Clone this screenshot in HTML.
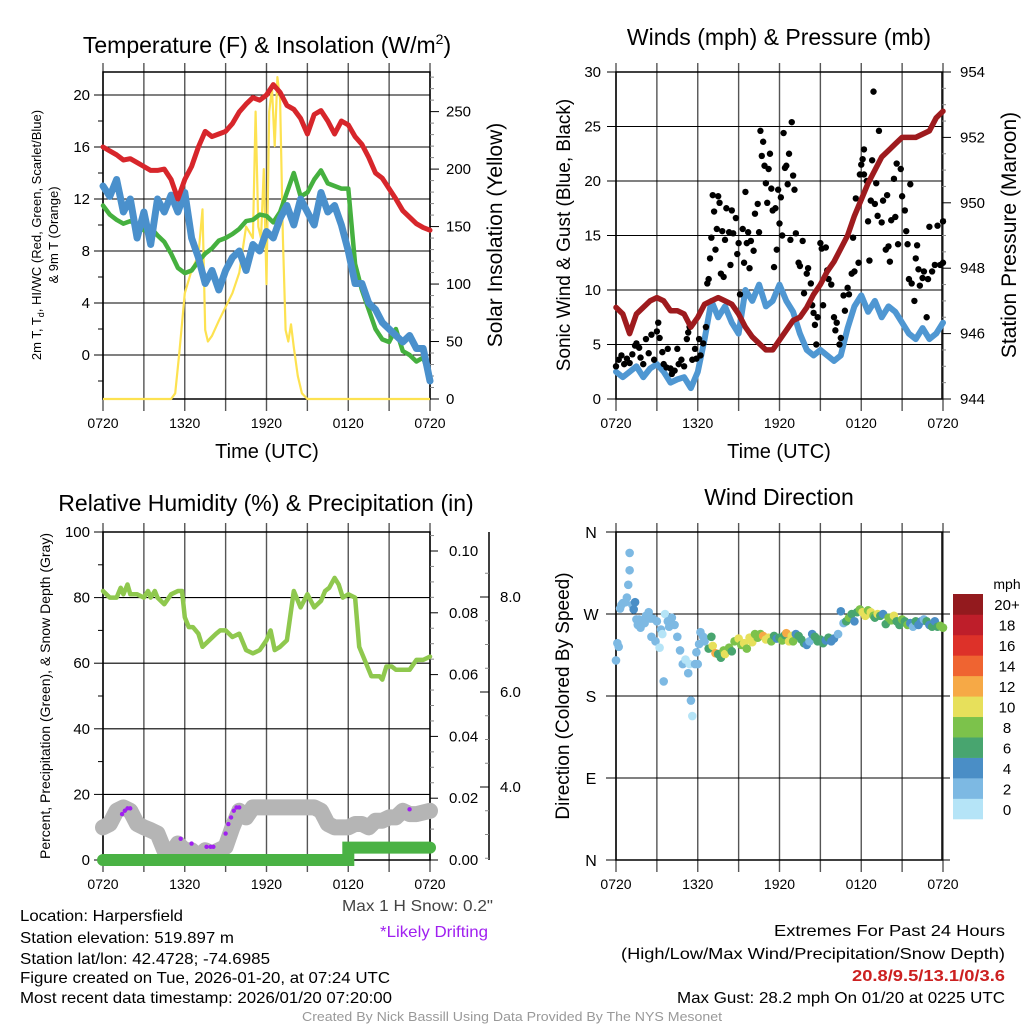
<!DOCTYPE html>
<html><head><meta charset="utf-8"><style>
html,body{margin:0;padding:0;background:#fff;}
svg{display:block;font-family:"Liberation Sans",sans-serif;}
.nar{font-family:"Liberation Sans Narrow","Liberation Sans",sans-serif;}
</style></head><body>
<svg id="fig" xmlns="http://www.w3.org/2000/svg" width="1024" height="1024" viewBox="0 0 1024 1024">
<rect width="1024" height="1024" fill="#fff"/>
<g id="layer"></g>
<text x="267" y="53" font-size="23" text-anchor="middle">Temperature (F) &amp; Insolation (W/m<tspan font-size="14" dy="-9">2</tspan><tspan dy="9">)</tspan></text>
<text x="779" y="45" font-size="23" text-anchor="middle">Winds (mph) &amp; Pressure (mb)</text>
<text x="266" y="511" font-size="23" text-anchor="middle">Relative Humidity (%) &amp; Precipitation (in)</text>
<text x="779" y="505" font-size="23" text-anchor="middle">Wind Direction</text>
<text x="267" y="458" font-size="20" text-anchor="middle">Time (UTC)</text>
<text x="779" y="458" font-size="20" text-anchor="middle">Time (UTC)</text>
<text transform="translate(41,235) rotate(-90)" font-size="13" text-anchor="middle">2m T, T<tspan font-size="9" dy="3">d</tspan><tspan dy="-3">, HI/WC (Red, Green, Scarlet/Blue)</tspan></text>
<text transform="translate(58,235) rotate(-90)" font-size="13" text-anchor="middle">&amp; 9m T (Orange)</text>
<text transform="translate(502,235) rotate(-90)" font-size="21" text-anchor="middle">Solar Insolation (Yellow)</text>
<text transform="translate(570,235) rotate(-90)" font-size="19" text-anchor="middle">Sonic Wind &amp; Gust (Blue, Black)</text>
<text transform="translate(1016,235) rotate(-90)" font-size="21" text-anchor="middle">Station Pressure (Maroon)</text>
<text transform="translate(50,696) rotate(-90)" font-size="14" text-anchor="middle">Percent, Precipitation (Green), &amp; Snow Depth (Gray)</text>
<text transform="translate(569,696) rotate(-90)" font-size="19" text-anchor="middle">Direction (Colored By Speed)</text>
<text x="1007" y="589" font-size="14" text-anchor="middle">mph</text>
<g class="nar" font-size="16">
<text x="342" y="911" fill="#444" textLength="151" lengthAdjust="spacingAndGlyphs">Max 1 H Snow: 0.2"</text>
<text x="380" y="937" fill="#a020f0" textLength="108" lengthAdjust="spacingAndGlyphs">*Likely Drifting</text>
<text x="20" y="921" textLength="163" lengthAdjust="spacingAndGlyphs">Location: Harpersfield</text>
<text x="20" y="943" textLength="214" lengthAdjust="spacingAndGlyphs">Station elevation: 519.897 m</text>
<text x="20" y="964" textLength="250" lengthAdjust="spacingAndGlyphs">Station lat/lon: 42.4728; -74.6985</text>
<text x="20" y="983" textLength="370" lengthAdjust="spacingAndGlyphs">Figure created on Tue, 2026-01-20, at 07:24 UTC</text>
<text x="20" y="1003" textLength="372" lengthAdjust="spacingAndGlyphs">Most recent data timestamp: 2026/01/20 07:20:00</text>
<text x="774" y="936" textLength="231" lengthAdjust="spacingAndGlyphs">Extremes For Past 24 Hours</text>
<text x="621" y="959" textLength="384" lengthAdjust="spacingAndGlyphs">(High/Low/Max Wind/Precipitation/Snow Depth)</text>
<text x="852" y="981" fill="#cc2020" font-weight="bold" textLength="153" lengthAdjust="spacingAndGlyphs">20.8/9.5/13.1/0/3.6</text>
<text x="677" y="1003" textLength="328" lengthAdjust="spacingAndGlyphs">Max Gust: 28.2 mph On 01/20 at 0225 UTC</text>
<text x="302" y="1021" font-size="13" fill="#999" textLength="420" lengthAdjust="spacingAndGlyphs">Created By Nick Bassill Using Data Provided By The NYS Mesonet</text>
</g>
</svg>
<script>
// ---------- DATA ----------
const xTickLabels = ["0720","1320","1920","0120","0720"];
const tempHours = [0,0.5,1,1.5,2,2.5,3,3.5,4,4.5,5,5.5,6,6.5,7,7.5,8,8.5,9,9.5,10,10.5,11,11.5,12,12.5,13,13.5,14,14.5,15,15.5,16,16.5,17,17.5,18,18.5,19,19.5,20,20.5,21,21.5,22,22.5,23,23.5,24];
const redTemp = [16,15.7,15.4,15.0,15.1,14.8,14.5,14.2,14.2,14.3,13.5,12.0,13.5,14.5,16,17.2,16.8,17,17.2,17.8,18.7,19.3,19.8,19.6,20.0,20.8,20.2,19.2,18.9,18.2,17.0,18.5,18.8,18.0,17.0,18.0,17.7,16.8,16.2,15.2,14.0,13.6,12.8,12.0,11.1,10.6,10.1,9.8,9.6];
const greenTemp = [11.5,10.8,10.4,10.1,10.3,10.0,9.6,9.8,9.2,8.7,7.8,6.7,6.3,6.5,7.2,7.8,8.2,8.8,9.0,9.3,9.7,10.3,10.4,10.8,10.7,10.2,11.0,12.5,14.0,12.2,12.5,13.5,14.2,13.2,13.0,12.8,12.8,7,5.0,3.5,2.0,1.2,1.0,2.0,0.3,0,-0.5,-0.2,-1.8];
const blueTemp = [13,12.2,13.5,11.0,12.0,9.0,11.0,8.5,12.0,11.0,12.3,11.0,12.5,9.0,7.5,5.5,6.5,5.0,6.5,7.5,8.0,6.5,8.5,8.0,9.5,9.0,10.5,11.5,10.0,12.0,11.0,10.0,12.5,11.0,11.5,10.0,8.0,5.5,5.5,4.0,3.5,2.5,2.0,1.5,1.0,1.5,0.5,0.5,-2.0];
const solarHours = [0,5,5.3,5.6,6,6.5,7,7.3,7.5,7.7,8,8.5,9,9.5,10,10.5,11,11.2,11.4,11.6,11.8,12,12.2,12.4,12.6,12.8,13,13.2,13.4,13.6,13.8,14,14.3,14.6,15,24];
const solarVals = [0,0,5,40,92,112,125,165,60,50,55,68,80,92,110,150,140,250,150,140,200,100,250,270,220,280,260,140,60,50,65,45,20,5,0,0];
const tempTicks = [0,4,8,12,16,20];
const solarTicks = [0,50,100,150,200,250];
const pressure = [946.8,946.6,946.0,946.6,946.8,947.0,947.1,947.0,946.7,946.7,946.6,946.2,946.5,946.9,947.0,947.1,947.0,946.9,946.6,946.2,945.9,945.7,945.5,945.5,945.8,946.1,946.4,946.5,946.8,947.2,947.5,947.9,948.2,948.6,949.0,949.6,950.1,950.6,951.0,951.4,951.6,951.8,952.0,952.0,952.0,952.1,952.2,952.6,952.8];
const windSpeed = [2.5,2.0,2.5,3.0,2.0,2.8,3.2,2.5,1.5,1.8,2.0,1.0,2.5,5.5,9.0,7.5,8.5,7.0,6.0,10.0,9.0,10.5,8.5,9.0,10.5,9.0,8.0,6.0,4.5,4.0,4.5,4.0,3.5,4.0,6.5,8.5,9.5,8.0,9.0,7.5,8.5,8.0,7.0,6.0,5.5,6.5,5.5,6.0,7.0];
const gustHours = [0,0.2,0.4,0.6,0.8,1,1.2,1.4,1.5,1.7,1.8,2,2.2,2.4,2.6,2.8,3,3.1,3.2,3.4,3.5,3.7,3.8,4,4.1,4.3,4.5,4.6,4.8,5,5.2,5.3,5.4,5.6,5.8,5.9,6.1,6.2,6.4,6.6,6.7,6.8,6.9,7.0,7.1,7.2,7.3,7.4,7.5,7.6,7.7,7.8,7.9,8.0,8.1,8.3,8.4,8.5,8.6,8.8,8.9,9.0,9.1,9.3,9.4,9.5,9.6,9.7,9.8,9.9,10.1,10.2,10.4,10.5,10.6,10.7,10.8,10.9,11.0,11.1,11.2,11.3,11.4,11.5,11.6,11.7,11.8,11.9,12.0,12.1,12.2,12.3,12.4,12.5,12.6,12.7,12.8,12.9,13.0,13.1,13.2,13.4,13.5,13.7,13.8,14.0,14.1,14.3,14.4,14.5,14.6,14.7,14.8,15.0,15.1,15.2,15.4,15.5,15.6,15.8,16.0,16.1,16.2,16.4,16.5,16.7,16.8,17.0,17.1,17.3,17.4,17.5,17.6,17.8,17.9,18.0,18.1,18.2,18.4,18.5,18.6,18.7,18.8,19.0,19.1,19.2,19.3,19.5,19.6,19.8,19.9,20.0,20.1,20.2,20.4,20.5,20.6,20.7,20.9,21.0,21.2,21.3,21.4,21.5,21.6,21.7,21.9,22.0,22.1,22.2,22.3,22.5,22.6,22.8,22.9,23.0,23.2,23.4,23.6,23.8,24,24,18.9,18.2];
const gustVals = [3,3.6,4,3.2,3.7,3.3,4.1,4.9,5.1,4.7,3.8,3.2,5.5,4.2,5.9,3.6,6.2,7.0,5.6,4.3,3.2,2.9,4.6,2.8,2.3,2.6,4.6,3.2,3.6,3.0,5.5,6.1,6.6,3.6,4.6,3.7,5.5,4.0,5.1,6.6,10.6,11.0,12.9,14.8,18.7,17.2,13.7,15.6,18.6,18.0,11.5,15.4,11.2,14.6,17.5,15.3,12.3,17.3,15.2,16.6,13.3,14.3,9.6,15.6,12.5,19.0,14.3,15.3,12.0,14.5,13.6,17.0,17.9,15.3,24.6,22.3,23.6,21.4,19.8,18.0,21.1,22.5,19.3,17.3,12.1,17.5,13.7,19.2,16.1,18.5,15.0,24.4,21.2,21.4,19.7,22.5,14.6,25.4,20.5,19.2,15.2,12.5,12.2,14.5,9.7,11.5,12.0,10.6,8.6,7.9,6.8,5.0,7.5,14.3,13.8,8.6,13.9,11.8,11.0,10.5,7.5,6.3,7.0,5.0,5.6,9.5,8.1,10.2,9.6,11.5,14.8,11.7,18.4,12.5,20.6,21.5,22.0,22.9,20.0,16.3,12.7,18.2,21.9,17.9,19.8,16.8,24.6,16.2,18.2,13.7,18.7,14.0,12.6,16.4,20.2,16.7,21.6,14.2,21.1,18.6,17.3,15.4,14.2,11.0,19.7,10.6,9.0,12.9,14.1,11.9,10.4,11.1,11.7,7.5,11.0,15.8,11.7,12.3,15.9,12.3,16.3,12.5,28.2,20.6];
const windTicks = [0,5,10,15,20,25,30];
const pressTicks = [944,946,948,950,952,954];
const rhHours = [0,0.5,1,1.3,1.5,1.8,2,2.5,3,3.3,3.5,3.8,4,4.5,5,5.5,5.8,6,6.3,6.6,7,7.3,7.8,8.3,8.6,9,9.5,10,10.5,11,11.5,12,12.3,12.6,13,13.5,14,14.5,15,15.5,16,16.3,16.6,17,17.3,17.6,18,18.5,18.8,19.3,19.7,20,20.3,20.5,20.8,21.2,21.5,22,22.5,23,23.5,24];
const rhVals = [82,80,80,83,81,84,81,81,80,82,80,82,80,78,81,82,82,74,71,71,69,65,67,69,70,70,68,69,64,63,64,67,70,64,65,67,82,77,81,77,79,82,83,86,84,80,81,80,65,60,56,56,56,55,59,59,58,58,58,61,61,62];
const snowHours = [0,0.5,1,1.5,2,2.5,3,3.5,4,4.5,5,5.5,6,6.5,7,7.5,8,8.5,9,9.5,10,10.5,11,12,13,14,15,15.5,16,16.5,17,18,18.5,19,19.5,20,20.5,21,21.5,22,22.5,23,24];
const snowDepth = [3.15,3.22,3.50,3.57,3.50,3.22,3.15,3.09,3.02,2.67,2.60,2.81,2.67,2.67,2.53,2.67,2.60,2.67,2.74,3.15,3.50,3.36,3.57,3.57,3.57,3.57,3.57,3.57,3.50,3.22,3.15,3.15,3.22,3.22,3.15,3.29,3.29,3.36,3.36,3.50,3.43,3.43,3.50];
const driftHours = [1.4,1.6,1.8,2.0,5.7,6.5,7.6,7.9,8.1,9.0,9.2,9.4,9.6,9.8,10.0,22.5];
const driftDepth = [3.43,3.50,3.55,3.55,2.91,2.81,2.74,2.74,2.74,3.02,3.22,3.36,3.50,3.57,3.57,3.53];
const precipHours = [0,18,18,24];
const precipVals = [0,0,0.004,0.004];
const rhTicks = [0,20,40,60,80,100];
const precipTicks = ["0.00","0.02","0.04","0.06","0.08","0.10"];
const snowTicks = ["4.0","6.0","8.0"];
const dirHours = [0,0.1,0.2,0.3,0.4,0.5,0.7,0.8,0.9,1.0,1.0,1.2,1.3,1.4,1.5,1.6,1.7,1.8,1.9,2.1,2.2,2.4,2.5,2.6,2.7,2.9,3.0,3.2,3.3,3.4,3.5,3.6,3.8,3.9,4.0,4.1,4.3,4.5,4.7,4.9,5.1,5.3,5.4,5.5,5.6,5.8,5.9,6.0,6.1,6.2,6.4,6.5,6.8,7.0,7.1,7.3,7.5,7.7,7.9,8.0,8.3,8.5,8.7,9.0,9.2,9.4,9.6,9.8,10.0,10.2,10.4,10.6,10.8,11.0,11.2,11.4,11.6,11.8,12.0,12.2,12.4,12.5,12.7,12.9,13.0,13.2,13.4,13.6,13.8,14.0,14.2,14.4,14.6,14.8,15.0,15.2,15.4,15.6,15.8,16.0,16.3,16.5,16.7,16.9,17.1,17.3,17.5,17.7,17.9,18.1,18.3,18.5,18.7,18.9,19.0,19.2,19.4,19.6,19.8,20.0,20.2,20.4,20.6,20.8,21.0,21.2,21.4,21.6,21.8,22.0,22.2,22.4,22.6,22.8,23.0,23.2,23.4,23.6,23.8,24.0];
const dirDeg = [219,238,234,276,280,282,283,288,302,337,318,280,275,283,264,258,264,255,262,260,268,272,265,245,265,240,262,233,253,248,196,270,262,256,262,266,258,245,230,215,220,205,215,175,158,215,228,215,237,250,245,240,232,245,235,227,226,222,230,226,233,229,240,243,236,238,232,244,239,248,244,248,246,242,244,240,246,243,244,241,247,249,240,246,240,248,246,242,238,236,240,248,245,240,242,238,241,244,240,243,248,273,260,262,266,270,262,272,275,272,268,274,272,268,266,270,268,270,259,266,263,268,262,258,264,262,258,260,256,262,258,262,264,262,258,256,262,256,257,255];
const dirSpeed = [2,2,2,2,2,2,2,2,2,2,2,3,4,4,2,2,2,2,2,2,2,3,3,2,2,2,2,1,2,1,2,1,2,2,2,2,2,2,2,2,1,2,1,2,1,2,3,2,2,2,3,3,6,7,10,13,7,6,9,10,8,7,8,10,9,10,8,11,10,9,8,8,12,10,11,8,7,5,7,9,6,12,11,10,9,5,6,6,6,5,3,4,6,6,7,6,5,6,5,4,3,4,3,6,8,7,4,6,9,10,10,8,10,9,7,11,7,5,6,9,8,10,7,7,9,6,8,4,3,6,4,5,3,7,4,6,5,7,8,8];
const dirTickLabels = ["N","E","S","W","N"];
const colorbarLabels = ["0","2","4","6","8","10","12","14","16","18","20+"];
const colorbarColors = ["#b5e4f7","#7db9e3","#4a8ec6","#48a56f","#7cc24b","#e7e05b","#f6a946","#ef6431","#dd3129","#be1e2a","#931a1e"];

// ---------- HELPERS ----------
const NS = "http://www.w3.org/2000/svg";
const layer = document.getElementById("layer");
function mk(tag, attrs, parent){
  const e = document.createElementNS(NS, tag);
  for (const k in attrs) e.setAttribute(k, attrs[k]);
  (parent||layer).appendChild(e);
  return e;
}
function panelX(x0){ return h => x0 + h * (327/24); }
function linPath(hs, vs, xf, yf){
  let d = "";
  for (let i=0;i<hs.length;i++) d += (i?"L":"M") + xf(hs[i]).toFixed(1) + "," + yf(vs[i]).toFixed(1);
  return d;
}
function txt(x,y,s,size,anchor,name,fill){
  const t = mk("text",{x:x,y:y,"font-size":size,"text-anchor":anchor||"middle",fill:fill||"#000"});
  t.textContent = s;
  
  
  return t;
}
function frame(x0,y0,x1,y1,name,xticks){
  const g = mk("g",{});
  
  
  const xf = panelX(x0);
  for (let h=0; h<=24; h+=3){
    const l = mk("line",{x1:xf(h),x2:xf(h),y1:y0-9,y2:y1+12,stroke:"#555","stroke-width":1.4},g);
    
    
  }
  mk("rect",{x:x0,y:y0,width:x1-x0,height:y1-y0,fill:"none",stroke:"#000","stroke-width":1.5},g);
  if (xticks){
    for (let i=0;i<xTickLabels.length;i++) txt(xf(i*6), y1+29, xTickLabels[i], 14, "middle", "x-tick-label");
  }
  return g;
}

// ---------- PANEL 1 ----------
(function(){
  const x0=103,x1=430,y0=72,y1=399;
  const xf = panelX(x0);
  const yT = v => 355 - v*13;
  const yS = v => 399 - v*1.1495;
  frame(x0,y0,x1,y1,"temperature-panel",true);
  for (let v=-2; v<=22; v+=2){
    const major = tempTicks.includes(v);
    if (yT(v)<y0||yT(v)>y1) continue;
    mk("line",{x1:x0-(major?9:5),x2:x0,y1:yT(v),y2:yT(v),stroke:"#000"});
    if (major){
      const l = mk("line",{x1:x0,x2:x1,y1:yT(v),y2:yT(v),stroke:"#000","stroke-width":1.1});
      
      
      txt(x0-13, yT(v)+5, String(v), 15, "end", "temp-tick-label");
    }
  }
  for (let v=0; v<=280; v+=10){
    const major = v%50===0;
    mk("line",{x1:x1,x2:x1+(major?9:4),y1:yS(v),y2:yS(v),stroke:major?"#000":"#888"});
  }
  solarTicks.forEach(v => txt(x1+16, yS(v)+5, String(v), 15, "start", "solar-tick-label"));
  const s = mk("path",{d:linPath(solarHours,solarVals,xf,yS),fill:"none",stroke:"#fde251","stroke-width":2.2,"stroke-linejoin":"round"});
  
  
  const g = mk("path",{d:linPath(tempHours,greenTemp,xf,yT),fill:"none",stroke:"#45b03f","stroke-width":4.5,"stroke-linejoin":"round","stroke-linecap":"round"});
  
  
  const b = mk("path",{d:linPath(tempHours,blueTemp,xf,yT),fill:"none",stroke:"#4a90cc","stroke-width":7,"stroke-linejoin":"round","stroke-linecap":"round"});
  
  
  const r = mk("path",{d:linPath(tempHours,redTemp,xf,yT),fill:"none",stroke:"#d7262b","stroke-width":5,"stroke-linejoin":"round","stroke-linecap":"round"});
  
  
})();

// ---------- PANEL 2 ----------
(function(){
  const x0=616,x1=942,y0=72,y1=399;
  const xf = panelX(x0);
  const yW = v => 399 - v*(327/30);
  const yP = v => 399 - (v-944)*(327/10);
  frame(x0,y0,x1,y1,"wind-panel",true);
  windTicks.forEach(v => {
    const l = mk("line",{x1:x0-9,x2:x1,y1:yW(v),y2:yW(v),stroke:"#000","stroke-width":1.1});
    
    
    txt(x0-15, yW(v)+5, String(v), 15, "end", "wind-tick-label");
  });
  for (let v=944; v<=954.01; v+=0.5){
    const major = Math.abs(v-Math.round(v/2)*2)<0.01;
    mk("line",{x1:x1,x2:x1+(major?9:4),y1:yP(v),y2:yP(v),stroke:major?"#000":"#888"});
  }
  pressTicks.forEach(v => txt(x1+18, yP(v)+5, String(v), 15, "start", "pressure-tick-label"));
  const b = mk("path",{d:linPath(tempHours,windSpeed,xf,yW),fill:"none",stroke:"#4f97d2","stroke-width":6,"stroke-linejoin":"round","stroke-linecap":"round"});
  
  
  const pg = mk("g",{});
  
  
  for (let i=0;i<gustHours.length;i++){
    const c = mk("circle",{cx:xf(gustHours[i]),cy:yW(gustVals[i]),r:3.2,fill:"#000"},pg);
    
    
  }
  const p = mk("path",{d:linPath(tempHours,pressure,xf,yP),fill:"none",stroke:"#9e1b1e","stroke-width":5.5,"stroke-linejoin":"round","stroke-linecap":"round"});
  
  
})();

// ---------- PANEL 3 ----------
(function(){
  const x0=103,x1=430,y0=532,y1=860;
  const xf = panelX(x0);
  const yR = v => 860 - v*3.28;
  const yPr = v => 860 - v*3090;
  const ySn = v => 787 - (v-4)*47.5;
  frame(x0,y0,x1,y1,"humidity-panel",true);
  for (let v=0; v<=100; v+=10){
    const major = v%20===0;
    mk("line",{x1:x0-(major?9:5),x2:x0,y1:yR(v),y2:yR(v),stroke:"#000"});
    if (major) mk("line",{x1:x0,x2:x1,y1:yR(v),y2:yR(v),stroke:"#000","stroke-width":1.1});
  }
  rhTicks.forEach(v => txt(x0-13, yR(v)+5, String(v), 15, "end", "rh-tick-label"));
  for (let i=0;i<=21;i++){
    const v=i*0.005, major=i%4===0;
    mk("line",{x1:x1,x2:x1+(major?8:4),y1:yPr(v),y2:yPr(v),stroke:major?"#000":"#888"});
  }
  precipTicks.forEach(s => txt(x1+19, yPr(parseFloat(s))+5, s, 15, "start", "precip-tick-label"));
  const sa = mk("line",{x1:489,x2:489,y1:532,y2:860,stroke:"#000","stroke-width":1.5});
  
  
  for (let v=2.5; v<=8.8; v+=0.5){
    const y=ySn(v); if (y<532||y>860) continue;
    const major = Math.abs(v%2)<0.01;
    mk("line",{x1:489-(major?9:4),x2:489,y1:y,y2:y,stroke:major?"#000":"#888"});
  }
  snowTicks.forEach(s => txt(500, ySn(parseFloat(s))+5, s, 15, "start", "snow-tick-label"));
  const sn = mk("path",{d:linPath(snowHours,snowDepth,xf,ySn),fill:"none",stroke:"#b5b5b5","stroke-width":16,"stroke-linejoin":"round","stroke-linecap":"round"});
  
  
  for (let i=0;i<driftHours.length;i++){
    const c = mk("circle",{cx:xf(driftHours[i]),cy:ySn(driftDepth[i]),r:2.2,fill:"#a020f0"});
    
    
  }
  const pr = mk("path",{d:linPath(precipHours,precipVals,xf,yPr),fill:"none",stroke:"#4ab244","stroke-width":12,"stroke-linecap":"round"});
  
  
  const rh = mk("path",{d:linPath(rhHours,rhVals,xf,yR),fill:"none",stroke:"#8fc84e","stroke-width":4.5,"stroke-linejoin":"round","stroke-linecap":"round"});
  
  
})();

// ---------- PANEL 4 ----------
(function(){
  const x0=616,x1=942,y0=532,y1=860;
  const xf = panelX(x0);
  const yD = v => 860 - v*(328/360);
  frame(x0,y0,x1,y1,"wind-direction-panel",true);
  for (let i=0;i<5;i++){
    const y=yD(i*90);
    const l = mk("line",{x1:x0-10,x2:x1+8,y1:y,y2:y,stroke:"#000","stroke-width":1.1});
    
    
    txt(591, y+6, dirTickLabels[i], 16, "middle", "direction-tick-label");
  }
  for (let i=0;i<dirHours.length;i++){
    const bin = Math.min(10, Math.floor(dirSpeed[i]/2));
    const c = mk("circle",{cx:xf(dirHours[i]),cy:yD(dirDeg[i]),r:4.3,fill:colorbarColors[bin]});
    
    
  }
  const bh = (819-594)/11;
  for (let i=0;i<11;i++){
    const y = 819 - (i+1)*bh;
    const r = mk("rect",{x:953,y:y,width:30,height:bh+0.3,fill:colorbarColors[i]});
    
    
    txt(1007, y+bh/2+6, colorbarLabels[i], 15, "middle", "colorbar-label");
  }
})();
</script>
</body></html>
